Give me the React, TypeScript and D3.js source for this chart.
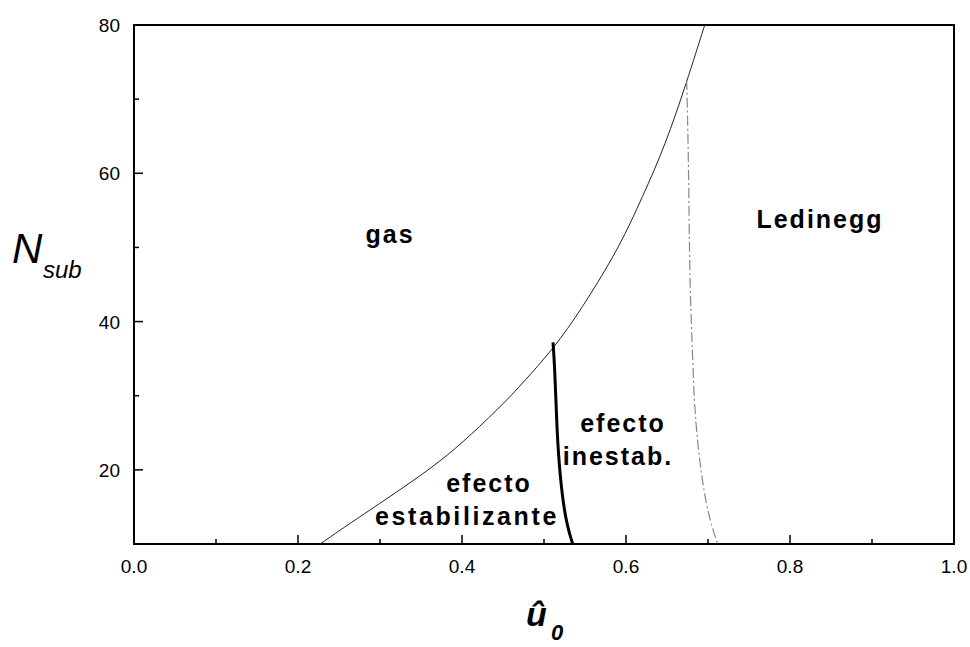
import React from "react";
import * as d3 from "d3";

const xTicksMajor = [0, 0.2, 0.4, 0.6, 0.8, 1.0];
const xTickLabels = ["0.0", "0.2", "0.4", "0.6", "0.8", "1.0"];
const xTicksMinor = [0.1, 0.3, 0.5, 0.7, 0.9];
const yTicksMajor = [20, 40, 60, 80];
const yTicksMinor = [30, 50, 70];

// gas boundary
const gasU = [0.227, 0.257, 0.288, 0.331, 0.373, 0.41, 0.455, 0.483, 0.52, 0.556, 0.593, 0.62, 0.648, 0.674, 0.696];
const gasN = [10, 12.3, 14.6, 17.8, 21.1, 24.6, 29.4, 32.8, 37.5, 43.5, 50.3, 56.8, 63.8, 72.3, 80];

// stabilizing / destabilizing boundary (thick)
const stabU = [0.511, 0.513, 0.515, 0.517, 0.522, 0.528, 0.535];
const stabN = [37.2, 33.9, 28, 22.7, 16.5, 12.5, 10];

// Ledinegg boundary (dash-dot)
const ledU = [0.674, 0.676, 0.677, 0.678, 0.681, 0.683, 0.687, 0.692, 0.698, 0.705, 0.712];
const ledN = [72.6, 63.1, 53.7, 44.3, 36.2, 29.4, 24.0, 19.3, 15.3, 12.2, 10];

const W = 970;
const H = 647;

export default function App() {
  const x = d3.scaleLinear().domain([0, 1]).range([134, 954]);
  const y = d3.scaleLinear().domain([10, 80]).range([544, 25]);

  const mk = (us: number[], ns: number[]) =>
    d3
      .line<number>()
      .x((_, i) => x(us[i]))
      .y((_, i) => y(ns[i]))
      .curve(d3.curveBasis)(us) as string;

  const font = "'Liberation Sans', Arial, Helvetica, sans-serif";
  const regionStyle: React.CSSProperties = {
    fontFamily: font,
    fontWeight: "bold",
    fontSize: 25,
    letterSpacing: 2,
  };

  return (
    <svg
      width={W}
      height={H}
      style={{ position: "absolute", left: 0, top: 0, background: "#fff" }}
    >
      <rect x={0} y={0} width={W} height={H} fill="#fff" />
      {/* frame */}
      <rect
        x={x(0)}
        y={y(80)}
        width={x(1) - x(0)}
        height={y(10) - y(80)}
        fill="none"
        stroke="#000"
        strokeWidth={2}
      />
      {/* x ticks */}
      {xTicksMajor.map((t, i) => (
        <g key={"xm" + i}>
          <line x1={x(t)} x2={x(t)} y1={y(10)} y2={y(10) - 9} stroke="#000" strokeWidth={1.5} />
          <text
            x={x(t)}
            y={y(10) + 29}
            textAnchor="middle"
            fontFamily={font}
            fontSize={19}
          >
            {xTickLabels[i]}
          </text>
        </g>
      ))}
      {xTicksMinor.map((t, i) => (
        <line key={"xn" + i} x1={x(t)} x2={x(t)} y1={y(10)} y2={y(10) - 5} stroke="#000" strokeWidth={1.5} />
      ))}
      {/* y ticks */}
      {yTicksMajor.map((t, i) => (
        <g key={"ym" + i}>
          <line x1={x(0)} x2={x(0) + 9} y1={y(t)} y2={y(t)} stroke="#000" strokeWidth={1.5} />
          <text
            x={x(0) - 14}
            y={y(t) + 7}
            textAnchor="end"
            fontFamily={font}
            fontSize={19}
          >
            {t}
          </text>
        </g>
      ))}
      {yTicksMinor.map((t, i) => (
        <line key={"yn" + i} x1={x(0)} x2={x(0) + 5} y1={y(t)} y2={y(t)} stroke="#000" strokeWidth={1.5} />
      ))}

      {/* curves */}
      <path d={mk(gasU, gasN)} fill="none" stroke="#222" strokeWidth={1} />
      <path d={mk(stabU, stabN)} fill="none" stroke="#000" strokeWidth={3} />
      <path
        d={mk(ledU, ledN)}
        fill="none"
        stroke="#888"
        strokeWidth={1.2}
        strokeDasharray="10,3,2,3"
      />

      {/* region labels */}
      <text x={390} y={243} textAnchor="middle" style={regionStyle}>gas</text>
      <text x={820} y={228} textAnchor="middle" style={regionStyle}>Ledinegg</text>
      <text x={623} y={432} textAnchor="middle" style={regionStyle}>efecto</text>
      <text x={618} y={465} textAnchor="middle" style={regionStyle}>inestab.</text>
      <text x={489} y={492} textAnchor="middle" style={regionStyle}>efecto</text>
      <text x={467} y={525} textAnchor="middle" style={{ ...regionStyle, letterSpacing: 2.6 }}>estabilizante</text>

      {/* axis titles */}
      <text x={12} y={263} fontFamily={font} fontStyle="italic" fontSize={42}>N</text>
      <text x={43} y={278} fontFamily={font} fontStyle="italic" fontSize={24}>sub</text>
      <text x={526} y={626} fontFamily={font} fontStyle="italic" fontWeight="bold" fontSize={34}>û</text>
      <text x={551} y={640} fontFamily={font} fontStyle="italic" fontWeight="bold" fontSize={22}>0</text>
    </svg>
  );
}
